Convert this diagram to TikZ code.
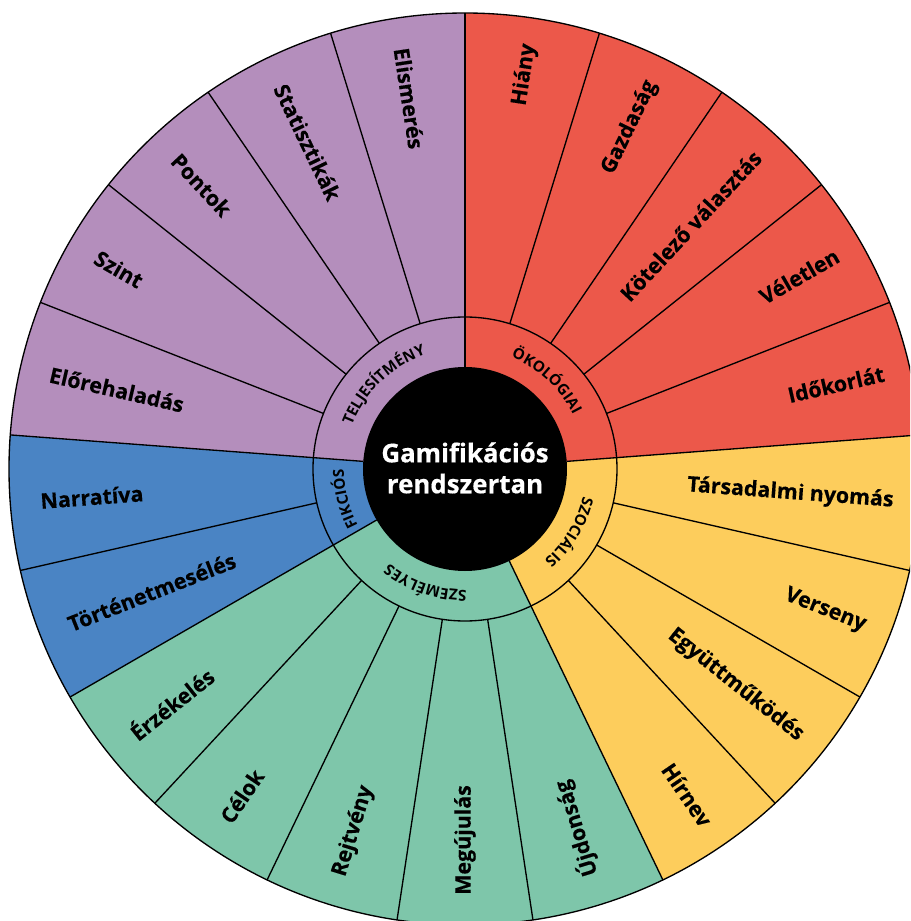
\documentclass[tikz,border=0pt]{standalone}
\usepackage{fontspec}
\setmainfont{Open Sans}[BoldFeatures={FakeBold=0.4}]
\newfontfamily\catfam{Open Sans}
\usetikzlibrary{decorations.text}

\definecolor{teljlila}{HTML}{B48EBC}
\definecolor{okopiros}{HTML}{EC584A}
\definecolor{szocsarga}{HTML}{FDCD5C}
\definecolor{szemzold}{HTML}{7EC6AA}
\definecolor{fikckek}{HTML}{4A84C4}

\newcommand{\segfont}{\fontsize{15.2}{18}\selectfont\bfseries}
\newcommand{\catfont}{\catfam\fontsize{10.8}{12}\selectfont\bfseries}

\tikzset{
  spoke/.style={black,line width=0.95pt},
  kifele/.style={anchor=east,inner sep=0pt,font=\segfont},
  befele/.style={anchor=west,inner sep=0pt,font=\segfont},
  kategoria/.style={decorate,decoration={text along path,text align=center,text={#1}}},
}

\begin{document}
\begin{tikzpicture}[x=0.025cm,y=0.025cm]
  % kozeppont (0,0); 1 egyseg = 1 px, 21 egyforma szelet
  \useasboundingbox (-465,-452) rectangle (445,469);
  \clip (-465,-452) rectangle (445,469);
  \def\szelet{17.142857}
  \foreach \a/\b/\c in {90/4.2857/okopiros, 4.2857/-64.2857/szocsarga, -64.2857/-150/szemzold,
                        -150/-184.2857/fikckek, 175.7143/90/teljlila}
    \fill[\c] (0,0) -- (\a:456) arc[start angle=\a, end angle=\b, radius=456] -- cycle;
  \foreach \i in {1,2,3,4,6,7,8,10,11,12,13,15,17,18,19,20}
    \draw[spoke] ({90-\i*\szelet}:152) -- ({90-\i*\szelet}:456);
  \foreach \i in {0,5,9,14,16}
    \draw[spoke] ({90-\i*\szelet}:102) -- ({90-\i*\szelet}:456);
  \draw[spoke] (0,0) circle[radius=152];
  \draw[spoke] (0,0) circle[radius=456];
  \fill[black] (0,0) circle[radius=102];
  \node[align=center,text=white,font=\fontsize{18.4}{22}\selectfont\bfseries] (kozep) at (0,1) {Gamifikációs\\rendszertan};
  % kategoriak a belso gyurun
  \path[kategoria={|\catfont|ÖKOLÓGIAI}] (87.14:121) arc[start angle=87.14, end angle=7.14, radius=121];
  \path[kategoria={|\catfont|SZOCIÁLIS}] (9:121) arc[start angle=9, end angle=-71, radius=121];
  \path[kategoria={|\catfont|SZEMÉLYES}] (-69:121) arc[start angle=-69, end angle=-149, radius=121];
  \path[kategoria={|\catfont|FIKCIÓS}] (-126:121) arc[start angle=-126, end angle=-206, radius=121];
  \path[kategoria={|\catfont|TELJESÍTMÉNY}] (174:121) arc[start angle=174, end angle=94, radius=121];
  % kulso feliratok
  \foreach \t [count=\j from 0] in {Hiány,Gazdaság,Kötelező választás,Véletlen,Időkorlát,
      Társadalmi nyomás,Verseny,Együttműködés,Hírnev,Újdonság,Megújulás,Rejtvény,Célok,Érzékelés,
      Történetmesélés,Narratíva,Előrehaladás,Szint,Pontok,Statisztikák,Elismerés}{
    \pgfmathsetmacro\m{90-(\j+0.5)*\szelet}
    \pgfmathsetmacro\mm{\m+180}
    \ifnum\j<9
      \node[kifele,rotate=\m] (seg\j) at (\m:430) {\t};
    \else
      \node[befele,rotate=\mm] (seg\j) at (\m:426) {\t};
    \fi
  }
\end{tikzpicture}
\end{document}
